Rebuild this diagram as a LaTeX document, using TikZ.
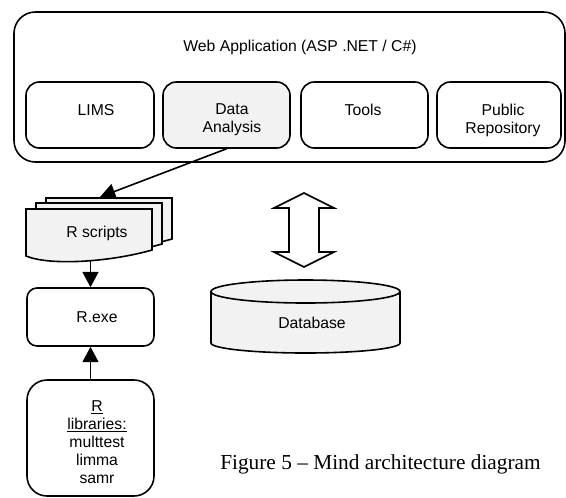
\documentclass[tikz,border=0pt]{standalone}
\usepackage{fontspec}
\setmainfont{Liberation Sans}
\newfontfamily\capfont{Liberation Serif}
\usetikzlibrary{arrows.meta}
\definecolor{boxgray}{RGB}{242,242,242}

\begin{document}
\begin{tikzpicture}[x=0.75pt,y=-0.75pt,
  outline/.style={draw=black,line width=1.2pt},
  box/.style={outline,rectangle,rounded corners=10pt,inner sep=0pt},
  shaded/.style={fill=boxgray},
  lbl/.style={font=\fontsize{11.8}{13.5}\selectfont,align=center,inner sep=0pt},
  link/.style={line width=1.2pt,-{Triangle[width=12pt,length=11.5pt]}}]

\useasboundingbox (0,0) rectangle (566,497);

% web application frame and its modules
\node[box,rounded corners=16pt,minimum width=413.25pt,minimum height=112.5pt] (web) at (289.5,87) {};
\node[lbl] (web-t) at (300,47.5) {Web Application (ASP .NET / C\#)};

\node[box,minimum width=96pt,minimum height=49.5pt] (lims) at (90,115) {};
\node[box,shaded,minimum width=95.25pt,minimum height=49.5pt] (da) at (226.5,115) {};
\node[box,minimum width=95.25pt,minimum height=49.5pt] (tools) at (364.5,115) {};
\node[box,minimum width=93pt,minimum height=49.5pt] (pub) at (499,115) {};

\node[lbl] (lims-t) at (96,110) {LIMS};
\node[lbl] (da-t) at (232,120) {Data\\Analysis};
\node[lbl] (tools-t) at (363,110) {Tools};
\node[lbl] (pub-t) at (503,120) {Public\\Repository};

% stack of R script documents (back to front)
\foreach \dx/\dy in {20/-11,10/-6,0/0}{
  \draw[outline,shaded,shift={(\dx,\dy)}]
    (26,209) -- (152,209) -- (152,250)
    .. controls (110,262) and (50,266) .. (26,256) -- cycle;
}
\coordinate (rs-top) at (100,197);
\coordinate (rs-bottom) at (90.5,261);
\node[lbl] (rs) at (97,233) {R scripts};

% R runtime and libraries
\node[box,rounded corners=7.5pt,minimum width=95.25pt,minimum height=43.5pt] (rexe) at (90.5,317) {};
\node[lbl] (rexe-t) at (97,317) {R.exe};

\node[box,rounded corners=15pt,minimum width=95.25pt,minimum height=87pt] (rlib) at (90.5,438) {};
\node[lbl] (rlib-t) at (97,442) {\underline{R}\\\underline{libraries:}\hspace*{9pt}\\multtest\\limma\\samr};

% connectors
\draw[link] (da.south) -- (rs-top);
\draw[link] (rs-bottom) -- (rexe.north);
\draw[link] (rlib.north) -- (rexe.south);

% two-way block arrow between application and database
\draw[outline,fill=white] (304,193) -- (334,208) -- (319,208) -- (319,252)
  -- (334,252) -- (304,267) -- (274,252) -- (289,252) -- (289,208)
  -- (274,208) -- cycle;

% database cylinder
\fill[boxgray] (211,291.5) -- (211,343)
  .. controls (211,348.5) and (253.3,353) .. (305.5,353)
  .. controls (357.7,353) and (400,348.5) .. (400,343)
  -- (400,291.5) -- cycle;
\draw[outline] (211,291.5) -- (211,343)
  .. controls (211,348.5) and (253.3,353) .. (305.5,353)
  .. controls (357.7,353) and (400,348.5) .. (400,343) -- (400,291.5);
\draw[outline,shaded] (211,291.5)
  .. controls (211,285.15) and (253.3,280) .. (305.5,280)
  .. controls (357.7,280) and (400,285.15) .. (400,291.5)
  .. controls (400,297.85) and (357.7,303) .. (305.5,303)
  .. controls (253.3,303) and (211,297.85) .. cycle;
\node[lbl] (db) at (312,323) {Database};

% caption
\node[font=\capfont\fontsize{16}{18}\selectfont,inner sep=0pt] (caption) at (380.5,464) {Figure 5 – Mind architecture diagram};
\end{tikzpicture}
\end{document}
